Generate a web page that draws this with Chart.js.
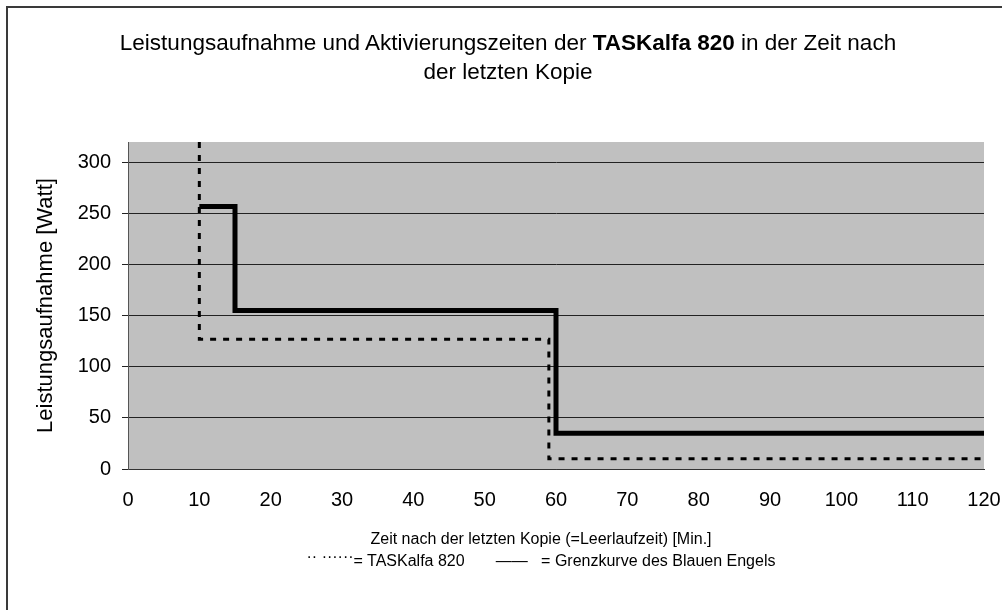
<!DOCTYPE html>
<html lang="de">
<head>
    <meta charset="UTF-8">
    <title>Leistungsaufnahme TASKalfa 820</title>
    <script src="https://cdn.jsdelivr.net/npm/chart.js"></script>
    <style>
        body { margin: 0; background: #fff; font-family: "Liberation Sans", Arial, sans-serif; }
        #wrap { position: relative; width: 1002px; height: 610px; overflow: hidden; }
        #rahmen { position: absolute; left: 6px; top: 6px; width: 1100px; height: 700px; border: 2px solid #3a3a3a; pointer-events: none; }
        #titel { position: absolute; left: 0; top: 28px; width: 1016px; text-align: center; font-size: 22.5px; line-height: 29px; color: #000; }
        #unten { position: absolute; left: 41px; top: 528px; width: 1000px; text-align: center; font-size: 16px; line-height: 22px; color: #000; white-space: pre; }
        canvas { position: absolute; left: 0; top: 0; }
    </style>
</head>
<body>
<div id="wrap">
    <canvas id="diagramm" width="1002" height="610"></canvas>
    <div id="titel">Leistungsaufnahme und Aktivierungszeiten der <b>TASKalfa 820</b> in der Zeit nach<br>der letzten Kopie</div>
    <div id="unten">Zeit nach der letzten Kopie (=Leerlaufzeit) [Min.]<br><span style="position:relative;top:-4px">·· ······</span>= TASKalfa 820       ——   = Grenzkurve des Blauen Engels</div>
    <div id="rahmen"></div>
</div>

<script>
    // Eckpunkte der Kurven (Minuten / Watt)
    const taskalfaMinuten = [10, 10, 59, 59, 120];
    const taskalfaWatt = [320, 127, 127, 10, 10];
    const grenzMinuten = [10, 15, 15, 60, 60, 120];
    const grenzWatt = [257, 257, 155, 155, 35, 35];
    const xTicks = [0, 10, 20, 30, 40, 50, 60, 70, 80, 90, 100, 110, 120];
    const yTicks = [0, 50, 100, 150, 200, 250, 300];

    const schrift = '"Liberation Sans", Arial, sans-serif';

    function punkte(xs, ys) {
        return xs.map((x, i) => ({ x: x, y: ys[i] }));
    }

    // grauer Hintergrund der Zeichenfläche
    const hintergrund = {
        id: 'hintergrund',
        beforeDraw(chart) {
            const a = chart.chartArea;
            const ctx = chart.ctx;
            ctx.save();
            ctx.fillStyle = '#c0c0c0';
            ctx.fillRect(a.left, a.top, a.right - a.left, a.bottom - a.top);
            ctx.restore();
        }
    };

    const ctx = document.getElementById('diagramm').getContext('2d');
    new Chart(ctx, {
        type: 'line',
        data: {
            datasets: [{
                label: 'TASKalfa 820',
                data: punkte(taskalfaMinuten, taskalfaWatt),
                borderColor: '#000',
                borderWidth: 3,
                borderDash: [6, 7],
                pointRadius: 0,
                fill: false,
                tension: 0
            }, {
                label: 'Grenzkurve des Blauen Engels',
                data: punkte(grenzMinuten, grenzWatt),
                borderColor: '#000',
                borderWidth: 5,
                pointRadius: 0,
                fill: false,
                tension: 0
            }]
        },
        options: {
            responsive: false,
            animation: false,
            devicePixelRatio: 1,
            layout: { padding: { left: 33, right: 18, top: 142, bottom: 91 } },
            plugins: {
                legend: { display: false },
                tooltip: { enabled: false }
            },
            scales: {
                x: {
                    type: 'linear',
                    min: 0,
                    max: 120,
                    afterBuildTicks: s => { s.ticks = xTicks.map(v => ({ value: v })); },
                    afterFit: s => { s.height = 50; s.paddingLeft = 0; s.paddingRight = 0; },
                    grid: { display: false },
                    border: { display: true, color: '#333', width: 1 },
                    ticks: { color: '#000', font: { family: schrift, size: 20 }, padding: 11, maxRotation: 0 }
                },
                y: {
                    min: 0,
                    max: 320,
                    afterBuildTicks: s => { s.ticks = yTicks.map(v => ({ value: v })); },
                    afterFit: s => { s.width = 95; s.paddingTop = 0; s.paddingBottom = 0; },
                    grid: { color: '#222', lineWidth: 1, tickLength: 6, drawTicks: true },
                    border: { display: true, color: '#555', width: 1 },
                    ticks: { color: '#000', font: { family: schrift, size: 20 }, padding: 11 },
                    title: {
                        display: true,
                        text: 'Leistungsaufnahme [Watt]',
                        color: '#000',
                        font: { family: schrift, size: 22 },
                        padding: 0
                    }
                }
            }
        },
        plugins: [hintergrund]
    });
</script>
</body>
</html>
